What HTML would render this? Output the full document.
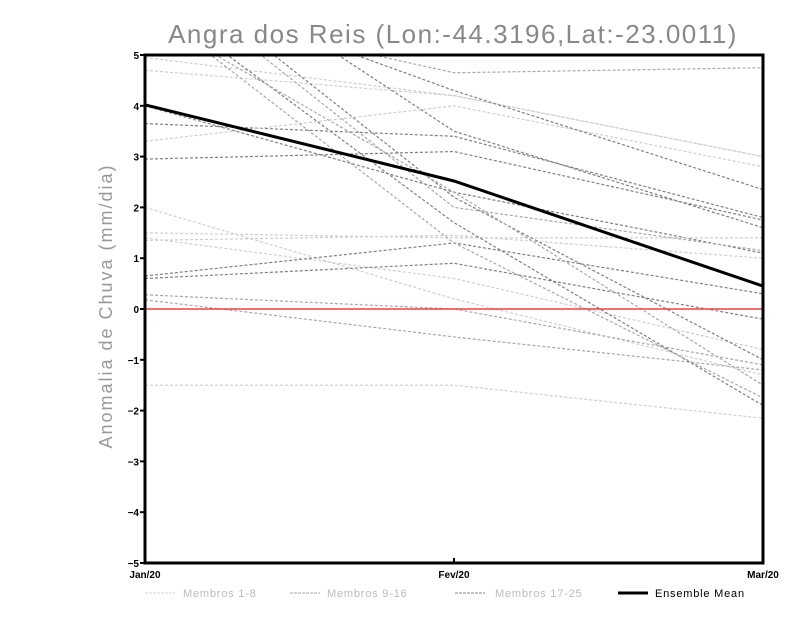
<!DOCTYPE html>
<html><head><meta charset="utf-8"><style>
body{margin:0;background:#fff}
svg{display:block;font-family:"Liberation Sans",sans-serif}
</style></head><body>
<svg id="c" width="800" height="618">
<defs><clipPath id="clip"><rect x="145" y="55" width="618" height="508"/></clipPath></defs>
<text x="453" y="43" text-anchor="middle" font-size="26" letter-spacing="1.5" fill="#888">Angra dos Reis (Lon:-44.3196,Lat:-23.0011)</text>
<text transform="translate(112,306) rotate(-90)" text-anchor="middle" font-size="18" letter-spacing="2" fill="#999">Anomalia de Chuva (mm/dia)</text>
<g id="lines" clip-path="url(#clip)"></g>
<g id="axes"></g>
</svg>
<script>
const months=["Jan/20","Fev/20","Mar/20"];
const yTicks=[-5,-4,-3,-2,-1,0,1,2,3,4,5];
const jan=[4.95,4.7,4.0,3.65,3.3,2.95,2.0,1.5,1.4,1.35,0.65,0.6,0.28,0.18,-1.5,6.0,6.5,7.0,6.8,6.2,5.8,7.5,6.0];
const fev=[4.2,4.2,2.3,3.4,4.0,3.1,0.2,1.4,0.6,1.45,1.3,0.9,0.0,-0.55,-1.5,4.65,4.3,2.2,2.0,1.7,2.3,3.5,1.3];
const mar=[3.0,3.0,1.1,1.8,2.8,1.75,-1.3,1.4,-0.8,1.0,0.3,-0.2,-1.1,-1.2,-2.15,4.75,2.35,-1.0,1.15,-1.9,-1.5,1.6,-1.75];
const group=[1,1,3,3,1,3,1,1,1,1,3,3,2,2,1,2,3,3,2,3,2,3,2];
const meanVals=[4.02,2.52,0.45];
const colors={1:"#cfcfcf",2:"#a8a8a8",3:"#808080"};
const X=i=>145+i*309, Y=v=>309-v*50.8;
const NS="http://www.w3.org/2000/svg";
const L=document.getElementById('lines'), A=document.getElementById('axes');
function mk(t,a,p){const e=document.createElementNS(NS,t);for(const k in a)e.setAttribute(k,a[k]);p.appendChild(e);return e;}
for(let i=0;i<jan.length;i++){
 const vals=[jan[i],fev[i],mar[i]];
 const e=mk('polyline',{points:vals.map((v,j)=>X(j)+','+Y(v)).join(' '),fill:'none',stroke:colors[group[i]],'stroke-width':1.2,'stroke-dasharray':'3,2'},L);
 
 
}
const z=mk('line',{x1:145,x2:763,y1:Y(0),y2:Y(0),stroke:'#f04040','stroke-width':1.5},L);


const m=mk('polyline',{points:meanVals.map((v,j)=>X(j)+','+Y(v)).join(' '),fill:'none',stroke:'#000','stroke-width':3},L);


const fr=mk('rect',{x:145,y:55,width:618,height:508,fill:'none',stroke:'#000','stroke-width':3},A);


yTicks.forEach(t=>{
 mk('line',{x1:140,x2:145,y1:Y(t),y2:Y(t),stroke:'#000','stroke-width':2},A);
 const tx=mk('text',{x:139,y:Y(t)+4,'text-anchor':'end','font-size':10,'font-weight':'bold'},A);
 tx.textContent=t<0?'\u2212'+(-t):t;
 
 
});
months.forEach((mn,j)=>{
 mk('line',{x1:X(j),x2:X(j),y1:563,y2:558,stroke:'#000','stroke-width':2},A);
 const tx=mk('text',{x:X(j),y:578,'text-anchor':'middle','font-size':10,'font-weight':'bold'},A);
 tx.textContent=mn;
 
 
});
const leg=[["Membros 1-8","#d4d4d4",1,"3,1",145,183],["Membros 9-16","#aaaaaa",1,"3,1",290,327],["Membros 17-25","#888888",1,"3,1",455,495],["Ensemble Mean","#000",3,"",618,655]];
leg.forEach(l=>{
 const g=mk('g',{},A);
 
 
 mk('line',{x1:l[4],x2:l[4]+30,y1:593,y2:593,stroke:l[1],'stroke-width':l[2],'stroke-dasharray':l[3]},g);
 const tx=mk('text',{x:l[5],y:597,'font-size':11,'letter-spacing':'0.8',fill:l[2]==3?'#000':'#bbb'},g);
 tx.textContent=l[0];
});
</script>
</body></html>
